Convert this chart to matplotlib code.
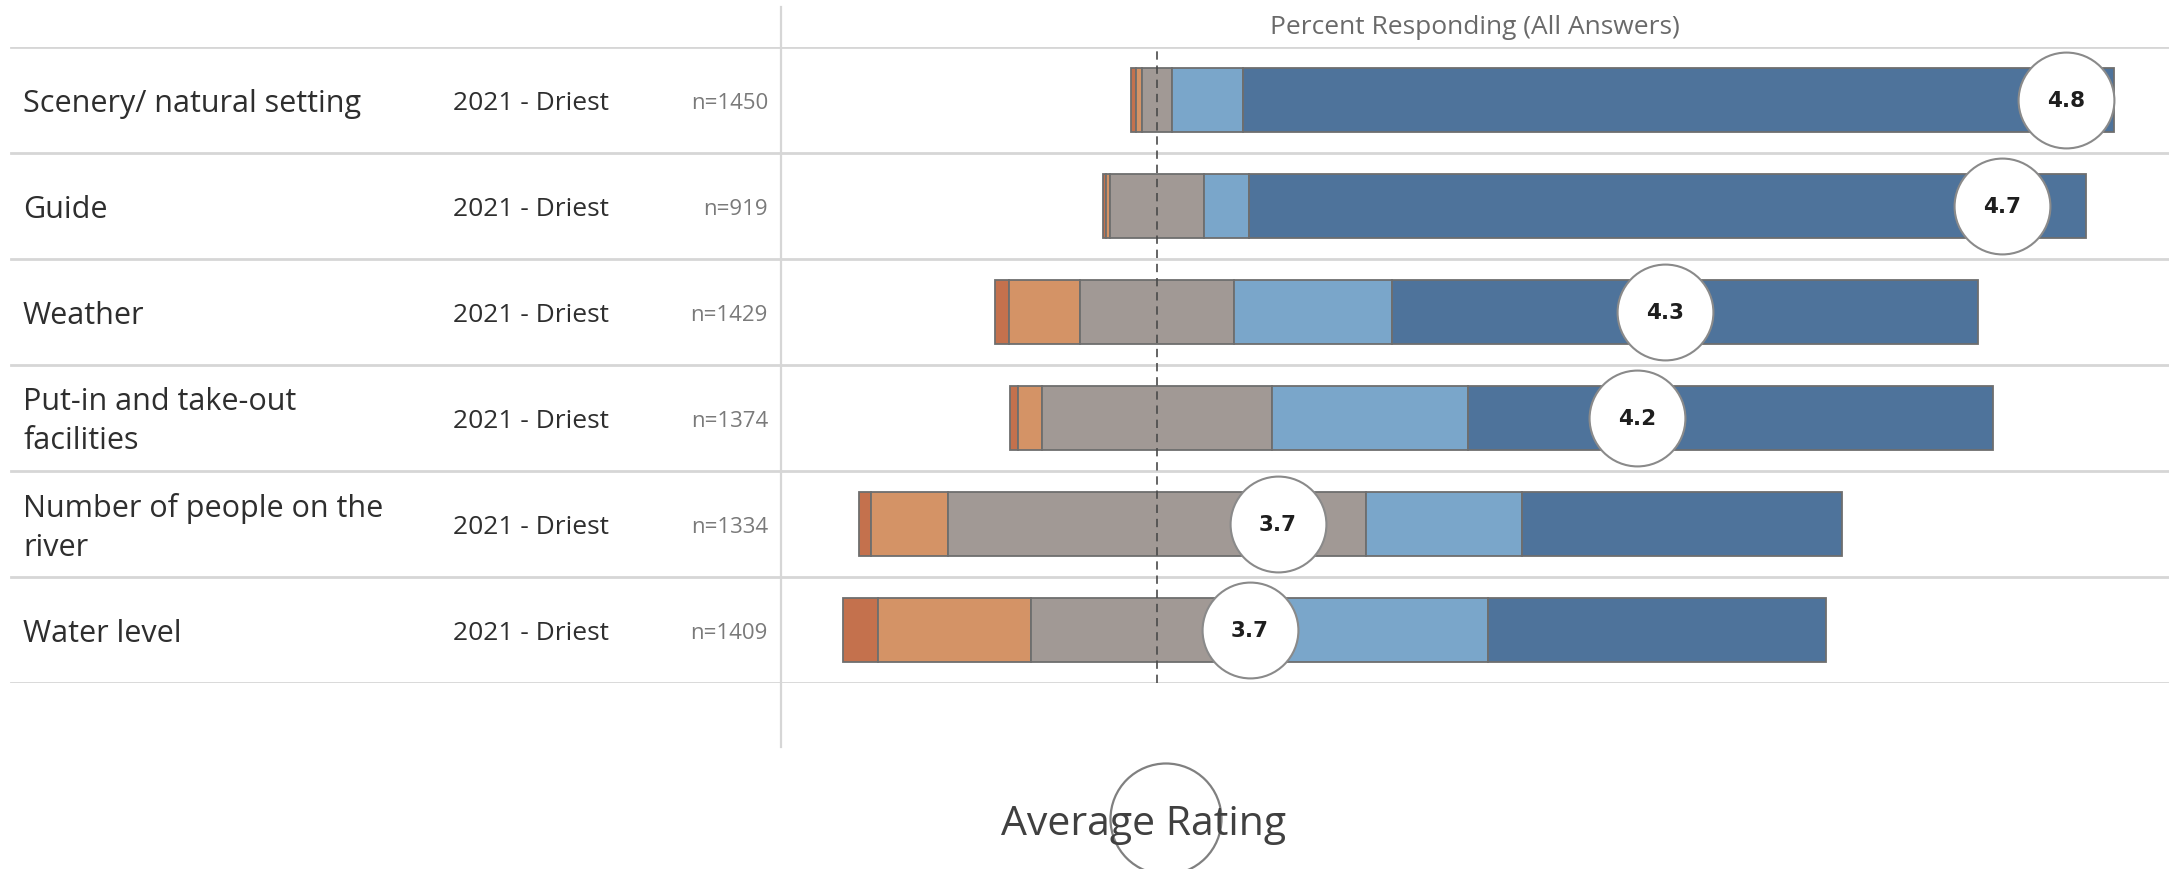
import numpy as np
import matplotlib
matplotlib.use("Agg")
import matplotlib.pyplot as plt
from matplotlib.lines import Line2D
from matplotlib.patches import Ellipse

plt.rcParams["font.family"] = ["Open Sans", "DejaVu Sans"]

# survey items, top to bottom
categories = ["Scenery/ natural setting", "Guide", "Weather",
              "Put-in and take-out\nfacilities",
              "Number of people on the\nriver", "Water level"]
period = ["2021 - Driest"] * 6
n_resp = [1450, 919, 1429, 1374, 1334, 1409]

# percent responding, very dissatisfied -> very satisfied
very_dis = [0.5, 0.3, 1.4, 0.9, 1.2, 3.5]
dis = [0.6, 0.4, 7.2, 2.4, 7.8, 15.6]
neutral = [3.1, 9.5, 15.7, 23.4, 42.6, 25.6]
sat = [7.2, 4.6, 16.1, 19.9, 15.8, 20.9]
very_sat = [88.6, 85.2, 59.6, 53.4, 32.6, 34.4]

# average rating (1-5 scale)
avg_rating = [4.83, 4.74, 4.26, 4.22, 3.71, 3.67]

seg_colors = ["#c4714d", "#d49366", "#a19995", "#7aa6ca", "#4e739b"]
line_col = "#d6d6d6"
edge_col = "#6e6e6e"

W, H = 2169, 869
fig = plt.figure(figsize=(W / 100, H / 100), dpi=100)

# layout in pixels
pane_left, pane_right = 781, 2169
rows_top, rows_bot = 47, 683
y0 = 1 - rows_bot / H
hh = (rows_bot - rows_top) / H

ax_lab = fig.add_axes([0, y0, pane_left / W, hh])
ax = fig.add_axes([pane_left / W, y0, (pane_right - pane_left) / W, hh])

nrows = len(categories)
ypos = np.arange(nrows)
for a in (ax_lab, ax):
    a.set_ylim(nrows - 0.5, -0.5)
    a.set_axis_off()
ax_lab.set_xlim(0, pane_left)

# diverging stacked bars, centred on middle of neutral segment
vd = np.array(very_dis)
d = np.array(dis)
nt = np.array(neutral)
s = np.array(sat)
vs = np.array(very_sat)
left = -(vd + d + nt / 2)
segs = [vd, d, nt, s, vs]
cur = left.copy()
for seg, col in zip(segs, seg_colors):
    ax.barh(ypos, seg, left=cur, height=0.6, color=col,
            edgecolor=edge_col, linewidth=1.3, zorder=2)
    cur = cur + seg
ax.set_xlim(-38.25, 102.95)

# row separators
for b in np.arange(-0.5, nrows):
    ax.axhline(b, color=line_col, lw=2, zorder=1)
    ax_lab.axhline(b, xmin=11 / pane_left, color=line_col, lw=2, zorder=1)

# dashed reference line at the neutral midpoint
ax.axvline(0, color="#4a4a4a", lw=1.2, dashes=(5, 3.5), zorder=3)

# average-rating circles on a second x scale
ax2 = ax.twiny()
ax2.set_axis_off()
ax2.set_xlim(3.003, 4.977)
ax2.set_ylim(nrows - 0.5, -0.5)
ax2.scatter(avg_rating, ypos, s=69 ** 2, facecolor="white",
            edgecolor="#8a8a8a", linewidth=1.5, zorder=4)
for r, yy in zip(avg_rating, ypos):
    ax2.text(r, yy + 0.01, f"{r:.1f}", ha="center", va="center", fontsize=15.5,
             fontweight="bold", family="DejaVu Sans", color="#1e1e1e", zorder=5)

# left-hand text columns (nudged down a little to sit like the original)
dy = 0.035
for yy, cat, per, n in zip(ypos, categories, period, n_resp):
    ax_lab.text(23, yy + dy, cat, ha="left", va="center", fontsize=22,
                color="#2e2e2e", linespacing=1.38)
    ax_lab.text(453, yy + dy, per, ha="left", va="center", fontsize=19,
                color="#2e2e2e")
    ax_lab.text(768, yy + dy, f"n={n}", ha="right", va="center", fontsize=16,
                color="#7a7a7a")

# header
fig.text((pane_left + pane_right) / 2 / W, 1 - 28 / H,
         "Percent Responding (All Answers)", ha="center", va="center",
         fontsize=19, color="#6a6a6a")

# vertical divider between text and pane
fig.add_artist(Line2D([pane_left / W] * 2, [1 - 7 / H, 1 - 747 / H],
                      color=line_col, lw=1.6))

# legend for the circles
fig.text(1144 / W, 1 - 835 / H, "Average Rating", ha="center",
         va="baseline", fontsize=29.5, color="#404040")
fig.add_artist(Ellipse((1166 / W, 1 - 819 / H), 111 / W, 111 / H,
                       transform=fig.transFigure, facecolor="none",
                       edgecolor="#808080", lw=1.6))

fig.savefig("out.png", dpi=100, facecolor="white")
